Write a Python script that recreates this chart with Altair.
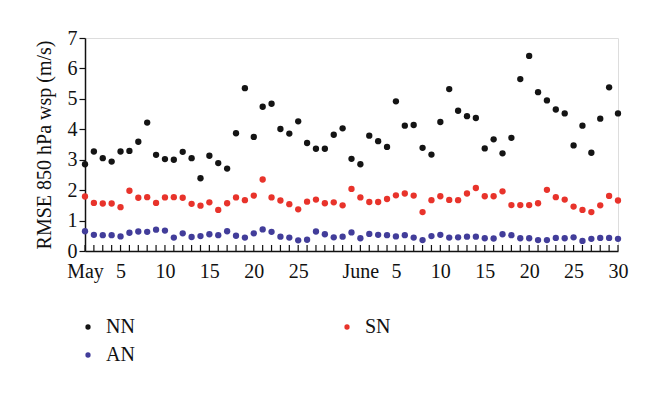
import json
import altair as alt
import pandas as pd

# day index 1..61 = May 1 .. June 30
days = list(range(1, 62))

nn = [2.85, 3.27, 3.05, 2.94, 3.27, 3.29, 3.59, 4.22, 3.16, 3.02, 3.00, 3.26, 3.05, 2.39, 3.13, 2.89, 2.71, 3.87, 5.35, 3.75,
      4.74, 4.84, 4.01, 3.86, 4.26, 3.55, 3.36, 3.36, 3.82, 4.03, 3.03,
      2.85, 3.79, 3.61, 3.42, 4.92, 4.12, 4.14, 3.39, 3.17, 4.24, 5.32,
      4.61, 4.43, 4.37, 3.37, 3.67, 3.21, 3.72, 5.65, 6.41, 5.22, 4.95, 4.65, 4.52, 3.47, 4.12, 3.23, 4.35, 5.38, 4.52]
sn = [1.79, 1.58, 1.56, 1.56, 1.44, 1.98, 1.75, 1.77, 1.58, 1.76, 1.77, 1.75, 1.55, 1.49, 1.60, 1.35, 1.57, 1.76, 1.67, 1.82,
      2.35, 1.76, 1.66, 1.54, 1.37, 1.62, 1.69, 1.57, 1.60, 1.50, 2.04,
      1.76, 1.61, 1.61, 1.71, 1.83, 1.89, 1.82, 1.28, 1.67, 1.80, 1.68,
      1.67, 1.89, 2.07, 1.80, 1.80, 1.96, 1.51, 1.51, 1.51, 1.57, 2.01, 1.77, 1.69, 1.46, 1.35, 1.28, 1.50, 1.81, 1.66]
an = [0.65, 0.53, 0.52, 0.52, 0.48, 0.60, 0.64, 0.63, 0.70, 0.67, 0.44, 0.58, 0.46, 0.49, 0.55, 0.52, 0.65, 0.50, 0.44, 0.58,
      0.71, 0.63, 0.47, 0.44, 0.35, 0.37, 0.64, 0.55, 0.45, 0.47, 0.61,
      0.42, 0.56, 0.53, 0.52, 0.48, 0.52, 0.44, 0.36, 0.49, 0.53, 0.44,
      0.45, 0.47, 0.47, 0.42, 0.41, 0.55, 0.52, 0.42, 0.42, 0.36, 0.36, 0.43, 0.42, 0.45, 0.33, 0.40, 0.43, 0.43, 0.40]

series_names = ["NN", "SN", "AN"]
series_colors = ["#141414", "#e8332b", "#423d9a"]

label_days = [1, 5, 10, 15, 20, 25, 32, 36, 41, 46, 51, 56, 61]
label_text = ["May", "5", "10", "15", "20", "25", "June", "5", "10", "15", "20", "25", "30"]
y_ticks = [0, 1, 2, 3, 4, 5, 6, 7]

rows = []
for name, vals in zip(series_names, [nn, sn, an]):
    for d, v in zip(days, vals):
        rows.append({"day": d, "value": v, "series": name})
df = pd.DataFrame(rows)
ticks_df = pd.DataFrame({"day": days})

FONT = "Liberation Serif"
W, H = 533, 213

label_expr = (
    f"indexof({json.dumps(label_days)}, datum.value) >= 0 ? "
    f"{json.dumps(label_text)}[indexof({json.dumps(label_days)}, datum.value)] : ''"
)

xscale = alt.Scale(domain=[1, 61], nice=False, zero=False)

points = alt.Chart(df).mark_circle(size=40, opacity=1).encode(
    x=alt.X("day:Q", scale=xscale,
            axis=alt.Axis(values=label_days, labelExpr=label_expr, title=None, ticks=False,
                          grid=False, labelFlush=False, labelOverlap=False, labelPadding=10,
                          labelFont=FONT, labelFontSize=20, labelColor="#111",
                          domainColor="#111", domainWidth=1.5)),
    y=alt.Y("value:Q", scale=alt.Scale(domain=[0, 7], nice=False),
            axis=alt.Axis(values=y_ticks, title="RMSE 850 hPa wsp (m/s)", grid=False,
                          tickSize=6, tickColor="#111", tickWidth=1.2, labelPadding=2,
                          labelFont=FONT, labelFontSize=20, labelColor="#111",
                          titleFont=FONT, titleFontSize=20, titleFontWeight="normal",
                          titleColor="#111", titlePadding=13,
                          domainColor="#111", domainWidth=1.5)),
    color=alt.Color("series:N", scale=alt.Scale(domain=series_names, range=series_colors),
                    legend=alt.Legend(title=None, orient="none", legendX=-7, legendY=279,
                                      columns=2, direction="horizontal",
                                      columnPadding=202, rowPadding=8,
                                      symbolType="circle", symbolSize=28, symbolStrokeWidth=0,
                                      labelFont=FONT, labelFontSize=20, labelColor="#111",
                                      labelOffset=8, padding=0)),
)

ticks = alt.Chart(ticks_df).mark_rule(color="#111", strokeWidth=1.2).encode(
    x=alt.X("day:Q", scale=xscale),
    y=alt.value(H),
    y2=alt.value(H - 6),
)

chart = alt.layer(ticks, points).properties(
    width=W, height=H,
    autosize=alt.AutoSizeParams(type="none"),
    padding={"left": 77, "top": 30, "right": 34, "bottom": 135},
).configure_view(stroke="#111", strokeWidth=1.5).configure(background="white")

chart.save("out.html", embed_options={"renderer": "svg", "actions": False})
